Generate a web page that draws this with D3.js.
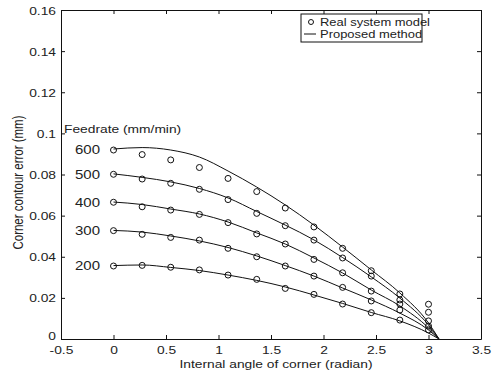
<!DOCTYPE html>
<html>
<head>
<meta charset="utf-8">
<script src="https://cdn.jsdelivr.net/npm/d3@7"></script>
<style>
  html, body { margin: 0; padding: 0; background: #fff; }
  svg { display: block; font-family: "Liberation Sans", Arial, sans-serif; }
  text { fill: #222; }
</style>
</head>
<body>
<svg id="chart" width="495" height="372"></svg>
<script>
// Corner angles (radian) at which the model was evaluated
const angles = [0, 0.273, 0.545, 0.818, 1.091, 1.364, 1.636, 1.909, 2.182, 2.455, 2.727, 3.0];
// Endpoint of the analytical curves (error vanishes at a straight path)
const lineEnd = 3.1;

const feedrates = [600, 500, 400, 300, 200];

// Real system model: corner contour error (mm), one row per feedrate
const model600 = [0.0919, 0.0897, 0.0871, 0.0834, 0.0781, 0.0717, 0.0637, 0.0545, 0.0441, 0.0332, 0.0219, 0.0169];
const model500 = [0.0801, 0.0778, 0.0757, 0.0728, 0.0678, 0.0611, 0.0551, 0.0481, 0.0394, 0.0306, 0.0190, 0.0130];
const model400 = [0.0665, 0.0643, 0.0627, 0.0606, 0.0566, 0.0511, 0.0462, 0.0387, 0.0322, 0.0233, 0.0170, 0.0088];
const model300 = [0.0527, 0.0509, 0.0494, 0.0481, 0.0441, 0.0400, 0.0355, 0.0306, 0.0251, 0.0185, 0.0141, 0.0063];
const model200 = [0.0355, 0.0358, 0.0349, 0.0336, 0.0311, 0.0290, 0.0246, 0.0217, 0.0170, 0.0128, 0.0092, 0.0044];

// Proposed method: predicted error at the same angles, then 0 at lineEnd
const method600 = [0.0924, 0.0931, 0.0919, 0.0885, 0.0817, 0.0739, 0.0652, 0.0554, 0.0447, 0.0336, 0.0224, 0.0078, 0];
const method500 = [0.0803, 0.0786, 0.0764, 0.0732, 0.0686, 0.0620, 0.0554, 0.0482, 0.0396, 0.0302, 0.0199, 0.0068, 0];
const method400 = [0.0666, 0.0654, 0.0632, 0.0608, 0.0569, 0.0516, 0.0462, 0.0394, 0.0321, 0.0238, 0.0161, 0.0054, 0];
const method300 = [0.0528, 0.0520, 0.0501, 0.0477, 0.0445, 0.0404, 0.0357, 0.0306, 0.0248, 0.0190, 0.0126, 0.0044, 0];
const method200 = [0.0357, 0.0360, 0.0348, 0.0333, 0.0311, 0.0285, 0.0253, 0.0214, 0.0173, 0.0129, 0.0088, 0.0029, 0];

const xTicks = [-0.5, 0, 0.5, 1, 1.5, 2, 2.5, 3, 3.5];
const yTicks = [0, 0.02, 0.04, 0.06, 0.08, 0.1, 0.12, 0.14, 0.16];

const modelRows = [model600, model500, model400, model300, model200];
const methodRows = [method600, method500, method400, method300, method200];

const svg = d3.select("#chart");
const m = { left: 61, right: 481, top: 10, bottom: 339 };
const FS = 11.5;      // base font size
const SX = 1.2;       // horizontal stretch of the lettering

const x = d3.scaleLinear().domain([-0.5, 3.5]).range([m.left, m.right]);
const y = d3.scaleLinear().domain([0, 0.16]).range([m.bottom, m.top]);

const fmtX = d => d === 0 ? "0" : String(d);
const fmtY = d => d === 0 ? "0" : String(+d.toFixed(2));
const tickLen = 4;

// Horizontally stretched text centred vertically on (px, py)
function label(parent, px, py, str, anchor, size) {
  return parent.append("text")
    .attr("transform", `translate(${px},${py}) scale(${SX},1)`)
    .attr("text-anchor", anchor || "start")
    .attr("dy", "0.35em")
    .attr("font-size", size || FS)
    .text(str);
}

const bottomAxis = d3.axisBottom(x).tickValues(xTicks).tickFormat(fmtX).tickSizeInner(-tickLen).tickSizeOuter(0);
const topAxis = d3.axisTop(x).tickValues(xTicks).tickFormat("").tickSizeInner(-tickLen).tickSizeOuter(0);
const leftAxis = d3.axisLeft(y).tickValues(yTicks).tickFormat(fmtY).tickSizeInner(-tickLen).tickSizeOuter(0);
const rightAxis = d3.axisRight(y).tickValues(yTicks).tickFormat("").tickSizeInner(-tickLen).tickSizeOuter(0);

function styleAxis(g) {
  g.selectAll(".domain").attr("stroke", "#111").attr("stroke-width", 1);
  g.selectAll(".tick line").attr("stroke", "#111");
}

// Frame with inward ticks on all four sides
const gB = svg.append("g").attr("transform", `translate(0,${m.bottom})`).call(bottomAxis).call(styleAxis);
svg.append("g").attr("transform", `translate(0,${m.top})`).call(topAxis).call(styleAxis);
const gL = svg.append("g").attr("transform", `translate(${m.left},0)`).call(leftAxis).call(styleAxis);
svg.append("g").attr("transform", `translate(${m.right},0)`).call(rightAxis).call(styleAxis);

// Re-set tick labels with the stretched lettering
gB.selectAll(".tick text").remove();
gB.selectAll(".tick").each(function (d) {
  label(d3.select(this), 0, 10.5, fmtX(d), "middle", FS);
});
gL.selectAll(".tick text").remove();
gL.selectAll(".tick").each(function (d) {
  // the zero label sits a little higher so it clears the x-axis labels
  label(d3.select(this), -5, d === 0 ? -4 : 0, fmtY(d), "end", FS);
});

// Proposed-method curves
const line = d3.line()
  .x(d => x(d[0]))
  .y(d => y(d[1]))
  .curve(d3.curveMonotoneX);

const lineAngles = angles.concat([lineEnd]);
methodRows.forEach(row => {
  svg.append("path")
    .datum(row.map((v, i) => [lineAngles[i], v]))
    .attr("d", line)
    .attr("fill", "none")
    .attr("stroke", "#111")
    .attr("stroke-width", 1);
});

// Real-system-model markers
modelRows.forEach(row => {
  svg.append("g").selectAll("circle")
    .data(row.map((v, i) => [angles[i], v]))
    .join("circle")
    .attr("cx", d => x(d[0]))
    .attr("cy", d => y(d[1]))
    .attr("r", 3)
    .attr("fill", "none")
    .attr("stroke", "#111")
    .attr("stroke-width", 1);
});

// Feedrate annotations
label(svg, 64, 129, "Feedrate (mm/min)", "start", FS);
feedrates.forEach((f, i) => {
  label(svg, 100, y(modelRows[i][0]), f, "end", 12.5);
});

// Axis titles
label(svg, (m.left + m.right) / 2 + 5, 363.5, "Internal angle of corner (radian)", "middle", FS);

svg.append("text")
  .attr("transform", `translate(18,${(m.top + m.bottom) / 2 + 8}) rotate(-90) scale(1,${SX})`)
  .attr("text-anchor", "middle")
  .attr("dy", "0.35em")
  .attr("font-size", 11.5)
  .text("Corner contour error (mm)");

// Legend
const lg = svg.append("g").attr("transform", "translate(301,14)");
lg.append("rect")
  .attr("width", 121).attr("height", 28)
  .attr("fill", "#fff").attr("stroke", "#111").attr("stroke-width", 1);
lg.append("circle").attr("cx", 10).attr("cy", 8).attr("r", 2.5)
  .attr("fill", "none").attr("stroke", "#111");
lg.append("line").attr("x1", 3).attr("x2", 15).attr("y1", 20).attr("y2", 20)
  .attr("stroke", "#111");
label(lg, 19, 8, "Real system model", "start", 10.8);
label(lg, 19, 20, "Proposed method", "start", 10.8);
</script>
</body>
</html>
